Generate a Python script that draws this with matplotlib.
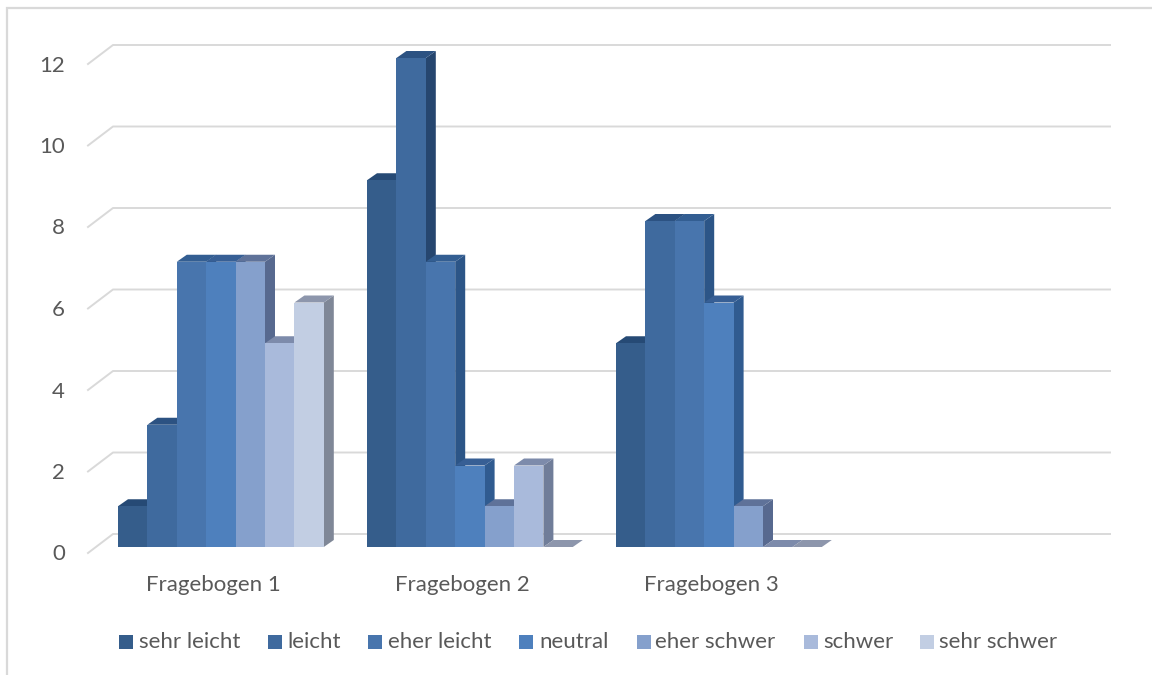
import matplotlib
matplotlib.use("Agg")
import matplotlib.pyplot as plt
from matplotlib.patches import Polygon, Rectangle

groups = ["Fragebogen 1", "Fragebogen 2", "Fragebogen 3"]
series = ["sehr leicht", "leicht", "eher leicht", "neutral", "eher schwer", "schwer", "sehr schwer"]
sehr_leicht = [1, 9, 5]
leicht = [3, 12, 8]
eher_leicht = [7, 7, 8]
neutral = [7, 2, 6]
eher_schwer = [7, 1, 1]
schwer = [5, 2, 0]
sehr_schwer = [6, 0, 0]
y_ticks = [0, 2, 4, 6, 8, 10, 12]

values = [sehr_leicht, leicht, eher_leicht, neutral, eher_schwer, schwer, sehr_schwer]
front = ["#355d8b", "#3f6a9e", "#4875ad", "#4e80bd", "#85a0cc", "#a9badb", "#c2cee3"]
top = ["#264a75", "#2c5282", "#335e92", "#375f95", "#5f7299", "#7d8bab", "#8d96ac"]
side = ["#24466e", "#26466f", "#2c5587", "#305b90", "#57698f", "#707d99", "#7f8797"]

W, H = 1152, 675
PX_X = 249.0     # pixels per category
PX_Y = 40.75     # pixels per value unit
X0, Y0 = 118.0, 547.0
BAR = 29.4 / PX_X
DX, DY = 10 / PX_X, 7 / PX_Y

fig = plt.figure(figsize=(W / 100, H / 100), dpi=100, facecolor="white")
ax = fig.add_axes([0, 0, 1, 1])
ax.set_xlim(-X0 / PX_X, (W - X0) / PX_X)
ax.set_ylim((Y0 - H) / PX_Y, Y0 / PX_Y)
ax.axis("off")
plt.rcParams["font.family"] = ["Lato", "DejaVu Sans"]
TEXT = "#595959"
FS = 16


def px(x, y):
    """Convert canvas pixels to data coordinates."""
    return (x - X0) / PX_X, (Y0 - y) / PX_Y


# Chart frame: only the top and left edges are drawn
ax.plot(*zip(px(7, 675), px(7, 8), px(1152, 8)), color="#d9d9d9", lw=1.6, zorder=1, solid_joinstyle="miter")

# Gridlines on the back wall with their slanted floor/side section
wall_dx = 25 / PX_X
wall_dy = 19 / PX_Y
x_end = px(1110, 0)[0]
for v in y_ticks:
    xa = px(88, 0)[0]
    xb = xa + wall_dx
    ya = v - 6 / PX_Y
    yb = ya + wall_dy
    ax.plot([xa, xb, x_end], [ya, yb, yb], color="#d9d9d9", lw=1.4, zorder=1)
    ax.text(px(65, 0)[0], v - 7.5 / PX_Y, str(v), ha="right", va="center",
            fontsize=FS, color=TEXT)

# Extruded bars, painted left to right so later bars overlap earlier ones
z = 2
for g in range(len(groups)):
    for s in range(len(series)):
        v = values[s][g]
        x = g + s * BAR
        r = x + BAR
        ax.add_patch(Polygon([(r, 0), (r + DX, DY), (r + DX, v + DY), (r, v)],
                             fc=side[s], ec="none", zorder=z))
        ax.add_patch(Polygon([(x, v), (x + DX, v + DY), (r + DX, v + DY), (r, v)],
                             fc=top[s], ec="none", zorder=z))
        if v > 0:
            ax.add_patch(Rectangle((x, 0), BAR, v, fc=front[s], ec="none", zorder=z))
        z += 1
    cx = g + 3.5 * BAR - 8 / PX_X
    ax.text(cx, px(0, 585)[1], groups[g], ha="center", va="center", fontsize=FS, color=TEXT)

# Legend row
sq_x = [119, 268, 368, 519, 637, 804, 920]
txt_x = [139, 287, 388, 539, 655, 823, 939]
for s, name in enumerate(series):
    x0, y0 = px(sq_x[s], 649)
    x1, y1 = px(sq_x[s] + 14, 635)
    ax.add_patch(Rectangle((x0, y0), x1 - x0, y1 - y0, fc=front[s], ec="none", zorder=50))
    ax.text(px(txt_x[s], 0)[0], px(0, 642)[1], name, ha="left", va="center",
            fontsize=FS, color=TEXT)

fig.savefig("out.png", dpi=100)
